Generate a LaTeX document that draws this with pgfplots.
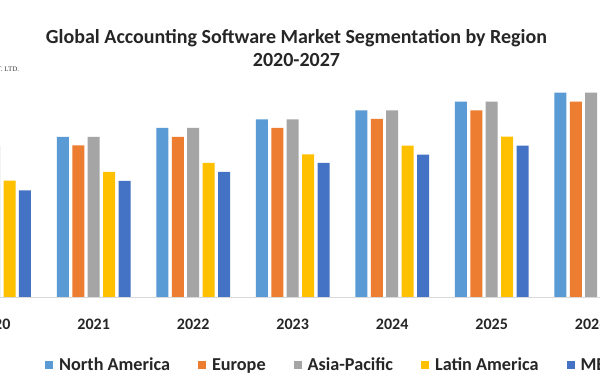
\documentclass[border=0pt]{standalone}
\usepackage{pgfplots}
\pgfplotsset{compat=1.18}
\usepackage{fontspec}
\setmainfont{Carlito}
\newfontfamily\wmfont{Liberation Serif}
\definecolor{cNA}{HTML}{5B9BD5}
\definecolor{cEU}{HTML}{ED7D31}
\definecolor{cAP}{HTML}{A5A5A5}
\definecolor{cLA}{HTML}{FFC000}
\definecolor{cME}{HTML}{4472C4}
\definecolor{txt}{HTML}{262626}
\begin{document}
\begin{tikzpicture}[x=1pt,y=1pt]
\useasboundingbox (0,0) rectangle (600,380);
\clip (0,0) rectangle (600,380);
\fill[white] (0,0) rectangle (600,380);
\node[font=\bfseries\fontsize{20}{23}\selectfont, text=txt, align=center, anchor=base] at (296.5,336.5) {Global Accounting Software Market Segmentation by Region};
\node[font=\bfseries\fontsize{20}{23}\selectfont, text=txt, anchor=base] at (296.5,313.5) {2020-2027};
\node[font=\wmfont\fontsize{7}{8}\selectfont, text=black!75, anchor=base west, inner sep=0pt] at (-3,308) {T. LTD.};
\begin{axis}[
  at={(-105.3pt,83pt)}, anchor=south west,
  x=99.5pt, y=1pt,
  xmin=-1, xmax=7.5, ymin=0, ymax=250,
  axis y line=none,
  axis x line*=bottom,
  axis line style={draw=black!15, line width=0.8pt},
  major tick length=0pt,
  xtick={0,...,7},
  xticklabels={2020,2021,2022,2023,2024,2025,2026,2027},
  xticklabel style={font=\bfseries\fontsize{16}{19}\selectfont, text=txt, anchor=base, yshift=-33pt},
  ybar=3.4pt, bar width=12pt,
  every axis plot/.append style={draw=none},
  clip=false,
  legend columns=5,
  legend image code/.code={\fill[#1, draw=none] (0pt,-4pt) rectangle (8pt,4pt);},
  legend style={draw=none, fill=none, inner sep=0pt, at={(0.1777,-0.272)}, anchor=west,
    font=\bfseries\fontsize{18.2}{22}\selectfont, text=txt,
    nodes={inner sep=0pt},
    /tikz/every odd column/.append style={column sep=6pt},
    /tikz/every even column/.append style={column sep=28pt}},
]
\addplot[fill=cNA] coordinates {(0,151.2) (1,160) (2,169) (3,177.7) (4,186.7) (5,195.3) (6,204.3) (7,213)};
\addplot[fill=cEU] coordinates {(0,142.5) (1,151.7) (2,160) (3,169) (4,178) (5,186.7) (6,195.3) (7,204)};
\addplot[fill=cAP] coordinates {(0,151.2) (1,160) (2,169) (3,177.7) (4,186.7) (5,195.3) (6,204.3) (7,213)};
\addplot[fill=cLA] coordinates {(0,116.3) (1,125) (2,134) (3,142.7) (4,151.3) (5,160.3) (6,169) (7,178)};
\addplot[fill=cME] coordinates {(0,106.5) (1,116) (2,125) (3,134) (4,142.3) (5,151.3) (6,160) (7,169)};
\legend{North America, Europe, Asia-Pacific, Latin America, MEA}
\end{axis}
\end{tikzpicture}
\end{document}
